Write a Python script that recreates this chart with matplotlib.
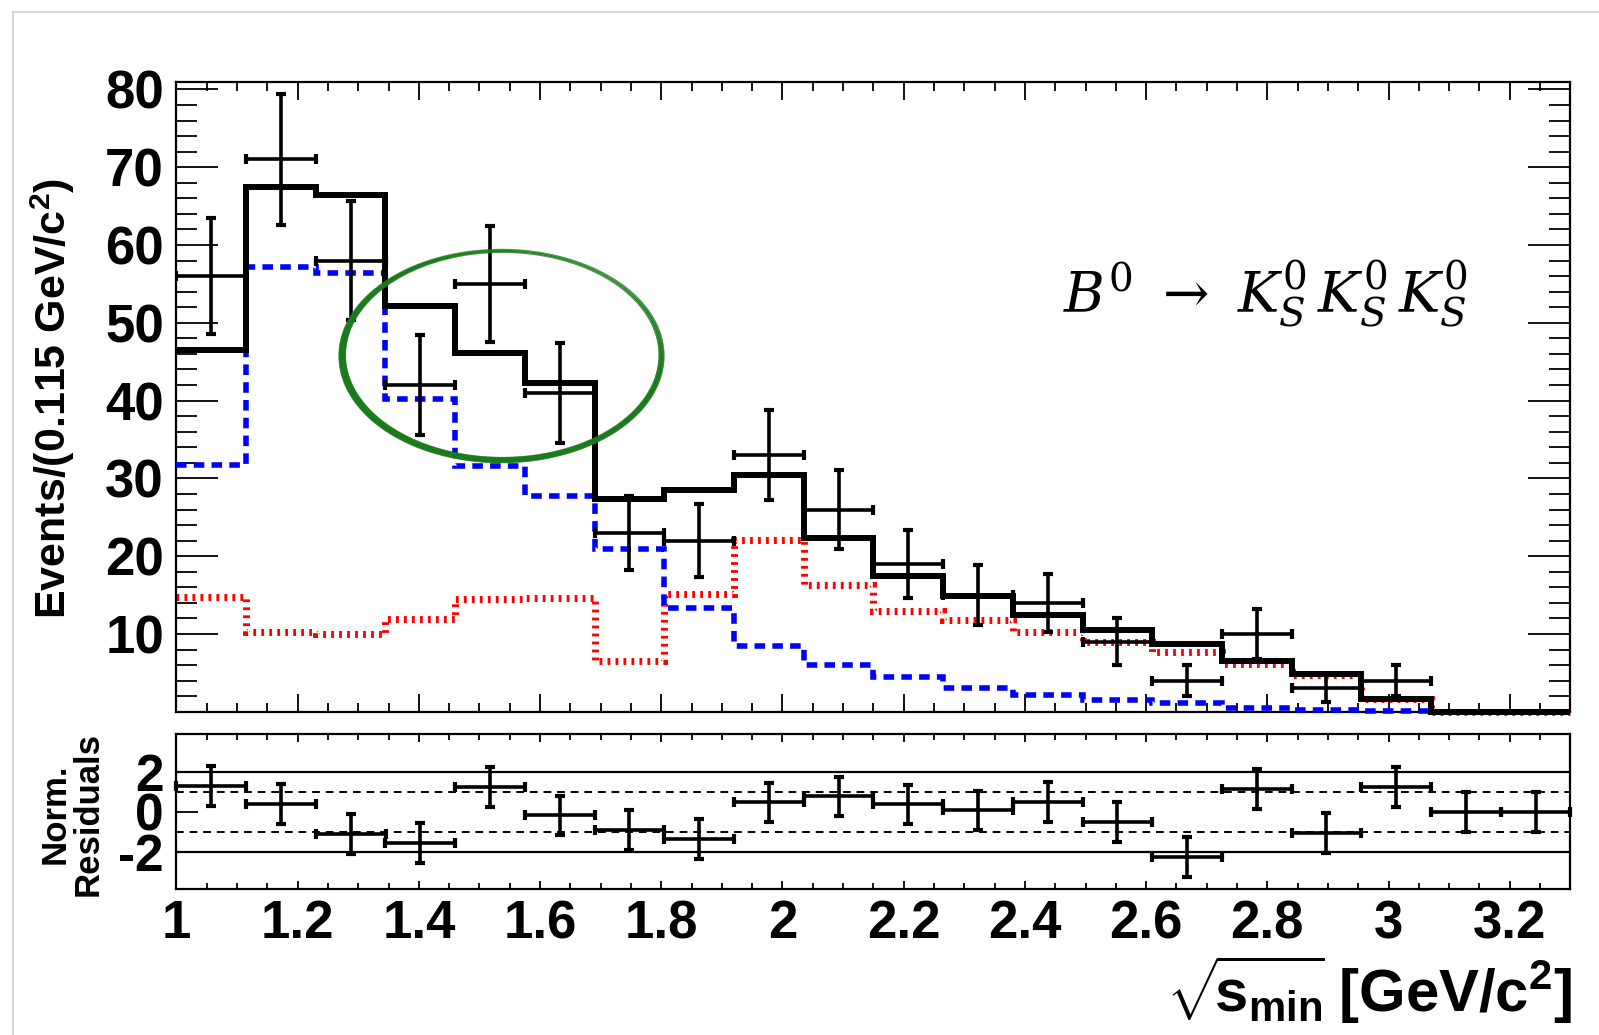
import numpy as np
import matplotlib
matplotlib.use("Agg")
import matplotlib.pyplot as plt
from matplotlib.ticker import MultipleLocator, FixedLocator, FuncFormatter
from matplotlib.collections import LineCollection
from matplotlib.lines import Line2D

plt.rcParams['font.family'] = ['Liberation Sans', 'DejaVu Sans']
plt.rcParams['font.weight'] = 'bold'
plt.rcParams['axes.unicode_minus'] = False
plt.rcParams['mathtext.fontset'] = 'custom'
plt.rcParams['mathtext.rm'] = 'DejaVu Serif:normal'
plt.rcParams['mathtext.it'] = 'DejaVu Serif:italic:normal'
plt.rcParams['mathtext.bf'] = 'Liberation Sans:bold'

# binning of sqrt(s_min): 20 bins of 0.115 GeV/c^2 starting at 1 GeV/c^2
bin_lo = 1.0
bin_width = 0.115
n_bins = 20

# fit components per bin
signal = [31.7, 57.2, 56.4, 40.2, 31.6, 27.7, 20.9, 13.4, 8.4, 6.0,
          4.5, 3.05, 2.15, 1.55, 1.07, 0.47, 0.2, 0.1, 0.0, 0.0]
background = [14.8, 10.3, 10.0, 11.9, 14.5, 14.6, 6.5, 15.1, 22.1, 16.3,
              13.0, 11.85, 10.3, 9.0, 7.7, 6.1, 4.7, 1.6, 0.0, 0.0]

# observed events per bin
counts = [56, 71, 58, 42, 55, 41, 23, 22, 33, 26,
          19, 15, 14, 9, 4, 10, 3, 4, 0, 0]

# normalised residuals per bin
residuals = [1.29, 0.40, -1.11, -1.56, 1.24, -0.18, -0.91, -1.36, 0.47, 0.77,
             0.37, 0.07, 0.49, -0.52, -2.29, 1.13, -1.06, 1.24, 0.0, 0.0]

edges = bin_lo + bin_width * np.arange(n_bins + 1)
centers = 0.5 * (edges[:-1] + edges[1:])
signal = np.array(signal)
background = np.array(background)
total = signal + background
counts = np.array(counts, dtype=float)
residuals = np.array(residuals)

W, H = 1599, 1035
fig = plt.figure(figsize=(W / 100, H / 100), dpi=100)

ax = fig.add_axes([176.4 / W, 323.2 / H, 1394.0 / W, 630.2 / H])
axr = fig.add_axes([176.4 / W, 145.7 / H, 1394.0 / W, 155.0 / H])

err_style = dict(fmt='none', ecolor='black', elinewidth=2.6, capsize=3.5,
                 capthick=3.0)

# --- main panel ---
ax.stairs(background, edges, baseline=None, color='#ff0000', lw=5.0,
          linestyle=(0, (0.4, 0.75)), clip_on=False, zorder=2)
ax.stairs(signal, edges, baseline=None, color='#0000ff', lw=4.0,
          linestyle=(0, (1.9, 1.3)), clip_on=False, zorder=3)
ax.stairs(total, edges, baseline=None, color='black', lw=4.3,
          clip_on=False, zorder=4)

nz = counts > 0
ax.errorbar(centers[nz], counts[nz], yerr=np.sqrt(counts[nz]), xerr=bin_width / 2,
            zorder=5, **err_style)

# hand-drawn highlight around the 1.4-1.7 region
ell_x, ell_y, ell_w, ell_h = 1.537, 45.8, 0.527, 26.9
theta = np.linspace(0, 2 * np.pi, 721)
mid = 0.5 * (theta[:-1] + theta[1:])
stroke = np.clip(4.4 - 2.0 * np.sin(mid) - 1.3 * np.cos(mid), 0.5, None) * 0.72
for s, a in [(0.986, 0.6), (0.995, 0.8), (1.004, 0.8), (1.013, 0.6)]:
    ex = ell_x + s * ell_w / 2 * np.cos(theta)
    ey = ell_y + s * ell_h / 2 * np.sin(theta)
    pts = np.column_stack([ex, ey]).reshape(-1, 1, 2)
    segs = np.concatenate([pts[:-1], pts[1:]], axis=1)
    lc = LineCollection(segs, linewidths=stroke * 0.55, colors='#1b7a1b',
                        alpha=a, capstyle='round', zorder=6)
    ax.add_collection(lc)

ax.set_xlim(edges[0], edges[-1])
ax.set_ylim(0, 81)
ax.xaxis.set_major_locator(MultipleLocator(0.2))
ax.xaxis.set_minor_locator(MultipleLocator(0.05))
ax.yaxis.set_major_locator(FixedLocator(np.arange(10, 90, 10)))
ax.yaxis.set_minor_locator(MultipleLocator(2))
ax.tick_params(which='both', direction='in', top=True, right=True,
               labelbottom=False, width=1.3)
ax.tick_params(axis='y', which='major', length=30, labelsize=38, pad=9)
ax.tick_params(axis='y', which='minor', length=15)
ax.tick_params(axis='x', which='major', length=13)
ax.tick_params(axis='x', which='minor', length=6.5)
for sp in ax.spines.values():
    sp.set_linewidth(1.6)

# --- residual panel ---
for lvl, ls in [(2, '-'), (-2, '-'), (1, (0, (4, 3))), (-1, (0, (4, 3)))]:
    axr.axhline(lvl, color='black', lw=1.6 if ls == '-' else 1.4, linestyle=ls, zorder=1)
axr.errorbar(centers, residuals, yerr=np.ones(n_bins), xerr=bin_width / 2,
             zorder=5, clip_on=False, **err_style)
axr.set_xlim(edges[0], edges[-1])
axr.set_ylim(-3.9, 3.9)
axr.xaxis.set_major_locator(MultipleLocator(0.2))
axr.xaxis.set_minor_locator(MultipleLocator(0.05))
axr.xaxis.set_major_formatter(FuncFormatter(lambda v, p: '%g' % round(v, 2)))
axr.yaxis.set_major_locator(FixedLocator([-2, 0, 2]))
axr.tick_params(which='both', direction='in', top=True, width=1.3)
axr.tick_params(axis='x', which='major', length=6, labelsize=38, pad=7)
axr.tick_params(axis='x', which='minor', length=4)
axr.tick_params(axis='y', which='major', length=16, labelsize=37, pad=9)
for sp in axr.spines.values():
    sp.set_linewidth(1.6)

# --- titles ---
fig.text(53 / W, 1 - 398 / H, r'Events/(0.115 GeV/c$^{\mathbf{2}}$)', rotation=90,
         ha='center', va='center', fontsize=31, fontweight='bold')
fig.text(72 / W, 1 - 814 / H, 'Norm.\nResiduals', rotation=90, ha='center',
         va='center', fontsize=25, fontweight='bold', linespacing=1.0)
fig.text(1572 / W, 1 - 1012 / H,
         r'$\sqrt{\!\mathbf{s}_{\mathbf{min}}\!}$ [GeV/c$^{\mathbf{2}}$]',
         ha='right', va='baseline', fontsize=43, fontweight='bold')
fig.text(1063 / W, 1 - 311.7 / H,
         r'$B^{0}\ \rightarrow\ K_{S}^{0}\,K_{S}^{0}\,K_{S}^{0}$',
         ha='left', va='baseline', fontsize=40, fontweight='normal')

# light page frame
fig.add_artist(Line2D([13 / W, 13 / W], [0, 1 - 11.5 / H], color='#cfcfcf', lw=1.2))
fig.add_artist(Line2D([13 / W, 1], [1 - 11.5 / H, 1 - 11.5 / H], color='#cfcfcf', lw=1.2))

fig.savefig('out.png', dpi=100)
